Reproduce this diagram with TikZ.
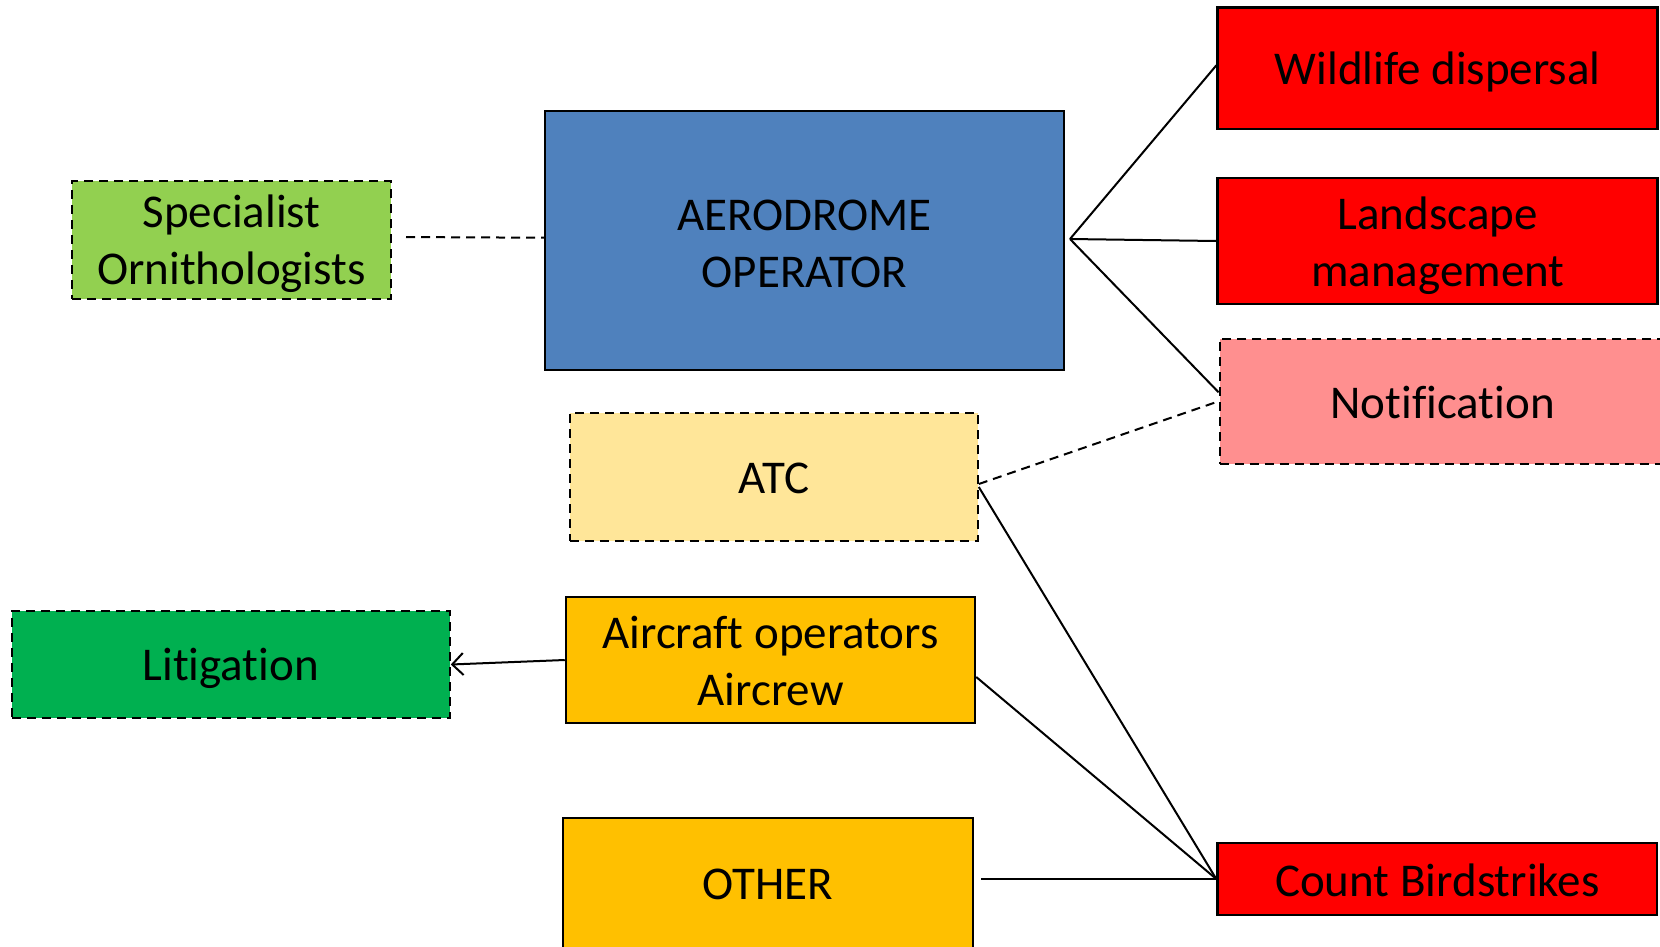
\documentclass[tikz,border=0pt]{standalone}
\usepackage{fontspec}
\setmainfont{Carlito}[Ligatures={NoCommon}]
\usetikzlibrary{arrows.meta}
\definecolor{aeroblue}{HTML}{4F81BD}
\definecolor{specgreen}{HTML}{92D050}
\definecolor{actred}{HTML}{FF0000}
\definecolor{notifpink}{HTML}{FF8F8F}
\definecolor{atcyellow}{HTML}{FFE699}
\definecolor{opsorange}{HTML}{FFC000}
\definecolor{litgreen}{HTML}{00B050}
\tikzset{
  box/.style={rectangle, draw=black, line width=2.5pt, inner sep=0pt},
  dbox/.style={box, line width=2pt, dash pattern=on 9pt off 6pt},
  txt/.style={inner sep=0pt, align=center, font=\fontsize{47}{57}\selectfont},
  caption/.style 2 args={label={[txt, yshift=-#1]center:{#2}}},
  link/.style={draw=black, line width=2pt},
  dlink/.style={link, dash pattern=on 9pt off 6pt},
}
\begin{document}
\begin{tikzpicture}[x=1pt, y=-1pt]
\useasboundingbox (0,0) rectangle (1660,946);
\clip (0,0) rectangle (1660,946);

% stakeholders
\node[dbox, fill=specgreen, minimum width=319pt, minimum height=118pt,
  caption={4pt}{Specialist\\Ornithologists}] (spec) at (231.5,240) {};
\node[box, fill=aeroblue, minimum width=519pt, minimum height=259pt,
  caption={3pt}{AERODROME\\OPERATOR}] (aero) at (804.5,240.7) {};
\node[dbox, fill=atcyellow, minimum width=408pt, minimum height=128pt,
  caption={1pt}{ATC}] (atc) at (773.8,477) {};
\node[box, fill=opsorange, minimum width=409pt, minimum height=126pt,
  caption={0.5pt}{Aircraft operators\\Aircrew}] (air) at (770.5,660) {};
\node[dbox, fill=litgreen, minimum width=438pt, minimum height=107pt,
  caption={4pt}{Litigation}] (lit) at (230.8,664.5) {};
\node[box, fill=opsorange, minimum width=410pt, minimum height=132pt,
  caption={0pt}{OTHER}] (other) at (768,884) {};

% actions
\node[box, fill=actred, minimum width=440pt, minimum height=121.6pt,
  caption={4pt}{Wildlife dispersal}] (wild) at (1437.7,68.2) {};
\node[box, fill=actred, minimum width=440pt, minimum height=126pt,
  caption={5pt}{Landscape\\management}] (land) at (1437.7,241) {};
\node[dbox, fill=notifpink, minimum width=446pt, minimum height=124.7pt,
  caption={1pt}{Notification}] (notif) at (1442.6,401.3) {};
\node[box, fill=actred, minimum width=439.5pt, minimum height=71.7pt,
  caption={1pt}{Count Birdstrikes}] (count) at (1437.3,879) {};

% connectors
\coordinate (hub) at (1070,239);
\draw[dlink, shorten <=14pt] ([yshift=3pt]spec.east) -- ([yshift=3pt]aero.west);
\draw[link] (hub) -- ([yshift=3pt]wild.west);
\draw[link] (hub) -- (land.west);
\draw[link] (hub) -- ([yshift=9pt]notif.west);
\draw[dlink] ([yshift=-7pt]atc.east) -- (notif.west);
\draw[link] ([yshift=-10pt]atc.east) -- (count.west);
\draw[link] ([yshift=-17pt]air.east) -- (count.west);
\draw[link, shorten <=7pt] (other.east |- count.west) -- (count.west);
\draw[link, -{Straight Barb[length=11pt, width=22pt, line width=2pt]}] (air.west) -- (lit.east);
\end{tikzpicture}
\end{document}
